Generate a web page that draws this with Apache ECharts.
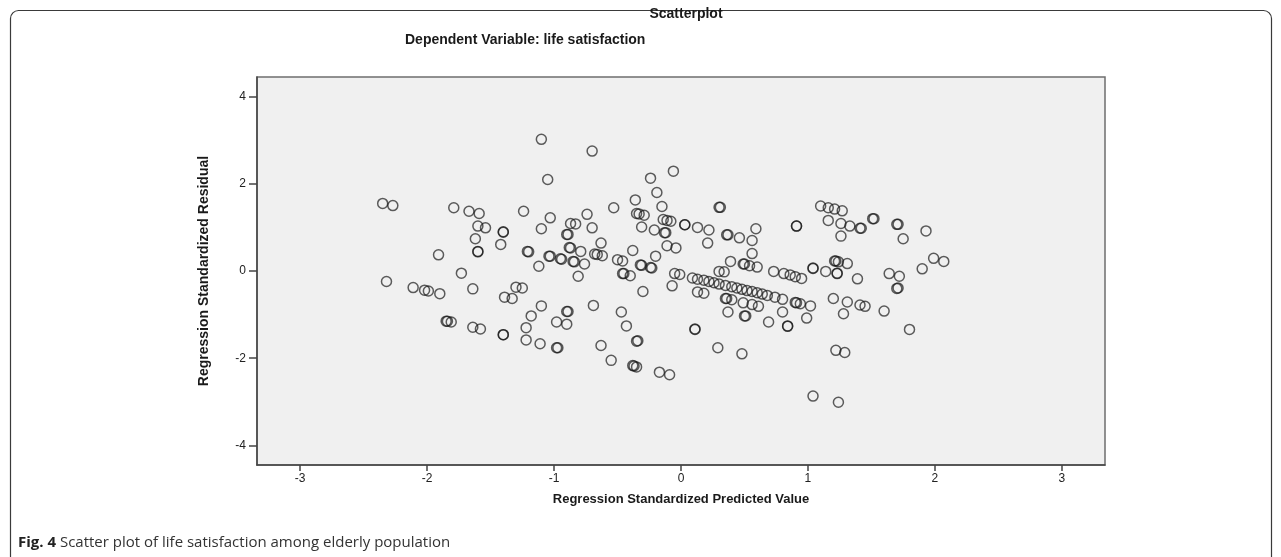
<!DOCTYPE html>
<html>
<head>
<meta charset="utf-8">
<script src="https://cdn.jsdelivr.net/npm/echarts@6/dist/echarts.min.js"></script>
<style>
  html, body { margin: 0; padding: 0; background: #fff; }
  #main { width: 1281px; height: 557px; }
</style>
</head>
<body>
<div id="main"></div>
<script>
// regression standardized predicted value (x) and standardized residual (y)
var predicted = [
  -2.35, -2.27, -1.79, -1.67, -1.59, -1.60, -1.54, -1.40, -1.40, -1.24, -1.62, -1.42, -1.60, -1.60, -1.91, -1.21, -1.20,
  -1.73, -2.32, -2.11, -2.02, -1.99, -1.90, -1.64, -1.30, -1.25, -1.39, -1.33, -1.85, -1.84, -1.81, -1.64, -1.58,
  -1.40, -1.40, -1.22, -1.22, -1.18,
  -1.10, -0.70, -1.05, -0.24, -0.06, -0.19, -0.36, -0.15, -0.53, 0.30, 0.31, -0.35, -0.33, -0.29, -0.74, -1.03,
  -0.87, -0.83, -1.10, -0.70, -0.14, -0.11, -0.08, 0.03, 0.03, 0.13, 0.22, -0.31, -0.21, -0.13, -0.12, -0.90, -0.89,
  0.59, 0.36, 0.37, 0.46, 0.56, 0.21, 0.56, 0.91, 0.91, -0.63, -0.11, -0.04, -0.38, -0.88, -0.87, -0.79, -0.68, -0.66,
  -0.62, -1.04, -1.03, -0.95, -0.94, -0.85, -0.84, -0.76, -1.12, -0.81, -0.50, -0.46, -0.20, -0.32, -0.31, -0.24, -0.23,
  -0.05, -0.01, -0.46, -0.45, -0.40, 0.39, 0.49, 0.50, 0.54, 0.60, 0.73, 0.81, 0.86, 0.90, 0.95, 0.30, 0.34,
  0.09, 0.13, 0.18, 0.22, 0.26, 0.30, 0.35, 0.40, 0.44, 0.48, 0.52, 0.56, 0.60, 0.64, 0.68, 0.74, 0.80,
  -0.07, -1.10, -0.90, -0.89, -0.69, -0.47, -0.98, -0.90, -0.43, -1.11, -0.98, -0.97, -0.35, -0.34, -0.63, -0.55,
  -0.38, -0.37, -0.35, -0.17, -0.09, -0.30, 0.11, 0.11, 0.29, 0.48, 0.13, 0.18, 0.35, 0.36, 0.40, 0.37, 0.49, 0.56,
  0.61, 0.51, 0.50, 0.69, 0.80, 0.84, 0.84, 0.91, 0.90,
  1.10, 1.16, 1.21, 1.27, 1.16, 1.26, 1.33, 1.42, 1.41, 1.51, 1.52, 1.70, 1.71, 1.93, 1.26, 1.75, 1.99, 2.07, 1.90,
  1.04, 1.04, 1.22, 1.21, 1.24, 1.31, 1.14, 1.23, 1.23, 1.39, 1.64, 1.72, 1.71, 1.70, 0.94, 1.02, 1.20, 1.31, 1.41,
  1.45, 1.60, 0.99, 1.28, 1.80, 1.22, 1.29, 1.04, 1.24
];
var residual = [
  1.55, 1.50, 1.45, 1.37, 1.32, 1.03, 0.99, 0.90, 0.89, 1.37, 0.74, 0.61, 0.45, 0.44, 0.37, 0.45, 0.44,
  -0.05, -0.24, -0.38, -0.44, -0.46, -0.52, -0.41, -0.37, -0.39, -0.60, -0.63, -1.15, -1.15, -1.17, -1.29, -1.33,
  -1.46, -1.46, -1.58, -1.30, -1.03,
  3.02, 2.75, 2.10, 2.13, 2.29, 1.80, 1.63, 1.48, 1.45, 1.46, 1.46, 1.32, 1.31, 1.28, 1.30, 1.22,
  1.09, 1.08, 0.97, 0.99, 1.18, 1.16, 1.14, 1.06, 1.06, 1.00, 0.94, 1.01, 0.94, 0.88, 0.88, 0.84, 0.84,
  0.97, 0.83, 0.83, 0.76, 0.70, 0.64, 0.40, 1.03, 1.03, 0.64, 0.58, 0.53, 0.47, 0.54, 0.53, 0.45, 0.39, 0.38,
  0.35, 0.34, 0.34, 0.28, 0.27, 0.22, 0.21, 0.16, 0.11, -0.12, 0.26, 0.23, 0.34, 0.14, 0.13, 0.08, 0.07,
  -0.06, -0.08, -0.06, -0.06, -0.11, 0.22, 0.16, 0.16, 0.12, 0.09, -0.01, -0.06, -0.09, -0.13, -0.17, -0.01, -0.02,
  -0.16, -0.19, -0.21, -0.24, -0.27, -0.30, -0.33, -0.36, -0.39, -0.42, -0.45, -0.47, -0.50, -0.53, -0.56, -0.60, -0.65,
  -0.34, -0.80, -0.93, -0.93, -0.79, -0.94, -1.17, -1.22, -1.26, -1.67, -1.76, -1.76, -1.61, -1.60, -1.71, -2.05,
  -2.17, -2.18, -2.20, -2.32, -2.38, -0.47, -1.34, -1.33, -1.76, -1.90, -0.48, -0.51, -0.63, -0.63, -0.66, -0.94, -0.73, -0.77,
  -0.81, -1.03, -1.03, -1.17, -0.94, -1.27, -1.26, -0.73, -0.72,
  1.49, 1.45, 1.42, 1.38, 1.16, 1.09, 1.03, 0.98, 0.98, 1.20, 1.20, 1.07, 1.07, 0.92, 0.80, 0.74, 0.29, 0.22, 0.05,
  0.06, 0.07, 0.23, 0.23, 0.21, 0.17, -0.01, -0.06, -0.05, -0.18, -0.06, -0.12, -0.39, -0.40, -0.75, -0.80, -0.63, -0.71, -0.78,
  -0.81, -0.92, -1.08, -0.98, -1.34, -1.82, -1.87, -2.87, -3.01
];
var xTicks = [-3, -2, -1, 0, 1, 2, 3];
var yTicks = [-4, -2, 0, 2, 4];

var points = predicted.map(function (v, i) { return [v, residual[i]]; });

var myChart = echarts.init(document.getElementById('main'));

myChart.setOption({
    animation: false,
    backgroundColor: '#ffffff',
    title: [
        {
            text: 'Scatterplot',
            left: 681,
            top: 2,
            textAlign: 'center',
            textStyle: { fontFamily: 'Liberation Sans', fontSize: 14, fontWeight: 'bold', color: '#1a1a1a' }
        },
        {
            text: 'Dependent Variable: life satisfaction',
            left: 400,
            top: 28,
            textStyle: { fontFamily: 'Liberation Sans', fontSize: 14, fontWeight: 'bold', color: '#1a1a1a' }
        }
    ],
    graphic: [
        {
            type: 'rect',
            shape: { x: 10.5, y: 10.5, width: 1261, height: 620, r: 8 },
            style: { fill: 'none', stroke: '#3a3a3a', lineWidth: 1.2 },
            silent: true
        },
        {
            type: 'text',
            left: 18,
            top: 535,
            style: {
                text: '{b|Fig. 4} Scatter plot of life satisfaction among elderly population',
                fontFamily: 'Open Sans',
                fontSize: 15,
                fill: '#333',
                rich: {
                    b: { fontFamily: 'Open Sans', fontSize: 15, fontWeight: 'bold', fill: '#222' }
                }
            }
        }
    ],
    grid: {
        left: 257,
        right: 176,
        top: 77,
        bottom: 92,
        show: true,
        backgroundColor: '#f0f0f0',
        borderColor: '#6e6e6e',
        borderWidth: 1.5
    },
    xAxis: {
        type: 'value',
        min: -3.34,
        max: 3.34,
        name: 'Regression Standardized Predicted Value',
        nameLocation: 'middle',
        nameGap: 28,
        nameTextStyle: { fontFamily: 'Liberation Sans', fontSize: 13, fontWeight: 'bold', color: '#1a1a1a' },
        axisLine: { onZero: false, lineStyle: { color: '#444', width: 1.5 } },
        axisTick: { customValues: xTicks, length: 6, lineStyle: { color: '#444', width: 1.5 } },
        axisLabel: { customValues: xTicks, margin: 8, fontFamily: 'Liberation Sans', fontSize: 12, color: '#222' },
        splitLine: { show: false }
    },
    yAxis: {
        type: 'value',
        min: -4.45,
        max: 4.45,
        name: 'Regression Standardized Residual',
        nameLocation: 'middle',
        nameGap: 46,
        nameTextStyle: { fontFamily: 'Liberation Sans', fontSize: 14, fontWeight: 'bold', color: '#1a1a1a' },
        axisLine: { onZero: false, lineStyle: { color: '#444', width: 1.5 } },
        axisTick: { customValues: yTicks, length: 8, lineStyle: { color: '#444', width: 1.5 } },
        axisLabel: { customValues: yTicks, margin: 11, fontFamily: 'Liberation Sans', fontSize: 12, color: '#222' },
        splitLine: { show: false }
    },
    series: [
        {
            type: 'scatter',
            data: points,
            symbol: 'circle',
            symbolSize: 10,
            itemStyle: {
                color: 'transparent',
                borderColor: 'rgba(20,20,20,0.85)',
                borderWidth: 1.5
            }
        }
    ]
});
</script>
</body>
</html>
